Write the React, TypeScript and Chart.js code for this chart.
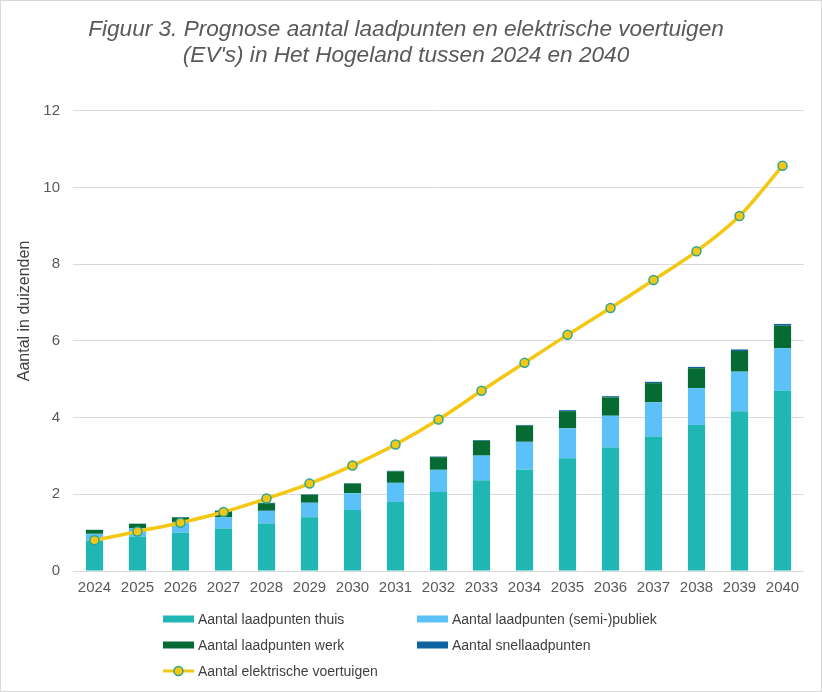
import React, { useEffect, useRef } from "react";
import { Chart, registerables } from "chart.js";

Chart.register(...registerables);

const years = ["2024", "2025", "2026", "2027", "2028", "2029", "2030", "2031", "2032", "2033", "2034", "2035", "2036", "2037", "2038", "2039", "2040"];
const laadpuntenThuis = [0.79, 0.9, 1.0, 1.11, 1.24, 1.4, 1.59, 1.8, 2.06, 2.37, 2.65, 2.94, 3.22, 3.5, 3.81, 4.17, 4.7];
const laadpuntenPubliek = [0.18, 0.22, 0.28, 0.29, 0.33, 0.38, 0.44, 0.5, 0.58, 0.64, 0.72, 0.78, 0.83, 0.9, 0.96, 1.03, 1.11];
const laadpuntenWerk = [0.1, 0.11, 0.12, 0.17, 0.2, 0.21, 0.25, 0.3, 0.33, 0.39, 0.42, 0.45, 0.48, 0.5, 0.52, 0.54, 0.59];
const snellaadpunten = [0.005, 0.006, 0.007, 0.008, 0.009, 0.01, 0.012, 0.014, 0.016, 0.018, 0.02, 0.025, 0.03, 0.035, 0.035, 0.04, 0.045];
const elektrischeVoertuigen = [0.8, 1.03, 1.26, 1.54, 1.89, 2.28, 2.75, 3.3, 3.95, 4.7, 5.43, 6.16, 6.86, 7.59, 8.34, 9.26, 10.57];

const yMin = 0;
const yMax = 12;
const yStep = 2;

const titleLines = [
  "Figuur 3. Prognose aantal laadpunten en elektrische voertuigen",
  "(EV's) in Het Hogeland tussen 2024 en 2040",
];
const yAxisTitle = "Aantal in duizenden";

const seriesNames = [
  "Aantal laadpunten thuis",
  "Aantal laadpunten (semi-)publiek",
  "Aantal laadpunten werk",
  "Aantal snellaadpunten",
  "Aantal elektrische voertuigen",
];

const COLORS = {
  thuis: "#1FB6B4",
  publiek: "#5BC1F8",
  werk: "#056B33",
  snel: "#0E63A0",
  line: "#F3C712",
  pointBorder: "#2FA592",
  grid: "#D9D9D9",
  text: "#595959",
  dark: "#404040",
};

const FONT = "'Liberation Sans', Arial, sans-serif";

const decorPlugin = {
  id: "decor",
  afterDraw(chart: any) {
    const ctx = chart.ctx as CanvasRenderingContext2D;
    const ds = chart.data.datasets;
    const cols = [163, 417];
    const rows = [619, 645, 671];
    const boxW = 31;
    const boxH = 7;
    ctx.save();
    ctx.font = `14px ${FONT}`;
    ctx.textBaseline = "middle";
    ctx.textAlign = "left";
    for (let i = 0; i < ds.length; i++) {
      const d = ds[i];
      const x = cols[i % 2];
      const y = rows[Math.floor(i / 2)];
      if (d.type === "line") {
        ctx.strokeStyle = d.borderColor;
        ctx.lineWidth = 3;
        ctx.beginPath();
        ctx.moveTo(x, y);
        ctx.lineTo(x + boxW, y);
        ctx.stroke();
        ctx.beginPath();
        ctx.arc(x + boxW / 2, y, 4.5, 0, Math.PI * 2);
        ctx.fillStyle = d.pointBackgroundColor;
        ctx.fill();
        ctx.lineWidth = 1.5;
        ctx.strokeStyle = d.pointBorderColor;
        ctx.stroke();
      } else {
        ctx.fillStyle = d.backgroundColor;
        ctx.fillRect(x, y - boxH / 2, boxW, boxH);
      }
      ctx.fillStyle = COLORS.dark;
      ctx.fillText(d.label, x + boxW + 4, y + 1);
    }
    // y-axis title
    ctx.save();
    ctx.translate(25, 311);
    ctx.rotate(-Math.PI / 2);
    ctx.textAlign = "center";
    ctx.textBaseline = "middle";
    ctx.font = `16px ${FONT}`;
    ctx.fillStyle = COLORS.dark;
    ctx.fillText(yAxisTitle, 0, 0);
    ctx.restore();
    // outer border
    ctx.strokeStyle = COLORS.grid;
    ctx.lineWidth = 1;
    ctx.strokeRect(0.5, 0.5, chart.width - 1, chart.height - 1);
    ctx.restore();
  },
};

export default function App() {
  const ref = useRef<HTMLCanvasElement | null>(null);

  useEffect(() => {
    if (!ref.current) return;
    const barBase = { type: "bar" as const, stack: "lp", order: 1, barPercentage: 0.4, categoryPercentage: 1, borderWidth: 0 };
    const chart = new Chart(ref.current, {
      type: "bar",
      data: {
        labels: years,
        datasets: [
          { ...barBase, label: seriesNames[0], data: laadpuntenThuis, backgroundColor: COLORS.thuis },
          { ...barBase, label: seriesNames[1], data: laadpuntenPubliek, backgroundColor: COLORS.publiek },
          { ...barBase, label: seriesNames[2], data: laadpuntenWerk, backgroundColor: COLORS.werk },
          { ...barBase, label: seriesNames[3], data: snellaadpunten, backgroundColor: COLORS.snel },
          {
            type: "line",
            label: seriesNames[4],
            data: elektrischeVoertuigen,
            stack: "ev",
            order: 0,
            borderColor: COLORS.line,
            backgroundColor: COLORS.line,
            borderWidth: 3.5,
            tension: 0.3,
            pointRadius: 4.5,
            pointBackgroundColor: COLORS.line,
            pointBorderColor: COLORS.pointBorder,
            pointBorderWidth: 1.5,
          } as any,
        ],
      },
      options: {
        responsive: false,
        animation: false,
        layout: { padding: { left: 8, right: 18, top: 0, bottom: 96 } },
        plugins: {
          legend: { display: false },
          tooltip: { enabled: false },
          title: {
            display: true,
            text: titleLines,
            color: COLORS.text,
            font: { family: FONT, size: 22.6, style: "italic", weight: "normal", lineHeight: 1.15 },
            padding: { top: 17, bottom: 42 },
          },
        },
        scales: {
          x: {
            stacked: true,
            grid: { display: false, drawTicks: false },
            border: { display: false },
            ticks: { color: COLORS.text, font: { family: FONT, size: 15 }, padding: 8 },
            afterFit: (scale: any) => {
              scale.height = 25;
            },
          },
          y: {
            stacked: true,
            min: yMin,
            max: yMax,
            grid: { color: COLORS.grid, drawTicks: false, lineWidth: 1 },
            border: { display: false },
            ticks: { stepSize: yStep, color: COLORS.text, font: { family: FONT, size: 15 }, padding: 13 },
            afterFit: (scale: any) => {
              scale.width = 65;
            },
          },
        },
      },
      plugins: [decorPlugin],
    });
    return () => chart.destroy();
  }, []);

  return (
    <div style={{ position: "absolute", left: 0, top: 0, width: 822, height: 692, background: "#fff" }}>
      <canvas ref={ref} width={822} height={692} style={{ display: "block", width: 822, height: 692 }} />
    </div>
  );
}
